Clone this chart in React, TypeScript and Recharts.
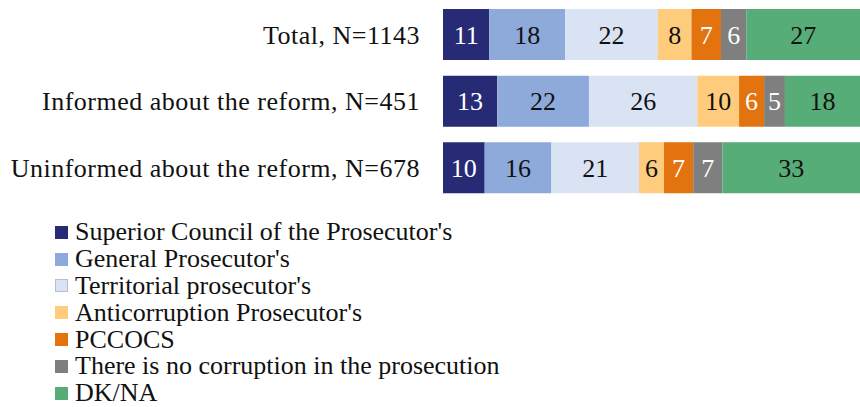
import { Bar, BarChart, LabelList, XAxis, YAxis } from "recharts";

const groups = [
  "Total, N=1143",
  "Informed about the reform, N=451",
  "Uninformed about the reform, N=678",
];

const seriesNames = [
  "Superior Council of the Prosecutor's",
  "General Prosecutor's",
  "Territorial prosecutor's",
  "Anticorruption Prosecutor's",
  "PCCOCS",
  "There is no corruption in the prosecution",
  "DK/NA",
];

const superiorCouncil = [11, 13, 10];
const generalProsecutor = [18, 22, 16];
const territorial = [22, 26, 21];
const anticorruption = [8, 10, 6];
const pccocs = [7, 6, 7];
const noCorruption = [6, 5, 7];
const dkna = [27, 18, 33];

const colors = ["#272B76", "#8EAADB", "#DAE3F3", "#FFCC7E", "#E2730F", "#7F7F7F", "#57AD78"];
const labelColors = ["#fff", "#111", "#111", "#111", "#fff", "#fff", "#111"];

const keys = ["s0", "s1", "s2", "s3", "s4", "s5", "s6"];
const values = [superiorCouncil, generalProsecutor, territorial, anticorruption, pccocs, noCorruption, dkna];

const data = groups.map((name, i) => {
  const row: Record<string, string | number> = { name };
  keys.forEach((k, j) => {
    row[k] = values[j][i];
  });
  return row;
});

const FONT = "'Liberation Serif', serif";

function LegendBox() {
  return (
    <div
      style={{
        position: "absolute",
        left: 55,
        top: 219,
        fontFamily: FONT,
        fontSize: 26,
        lineHeight: 1,
        color: "#111",
      }}
    >
      {seriesNames.map((n, i) => (
        <div key={n} style={{ display: "flex", alignItems: "center", height: 26.8, whiteSpace: "nowrap" }}>
          <span
            style={{
              display: "inline-block",
              width: 13,
              height: 13,
              background: colors[i],
              marginRight: 7,
              boxShadow: i === 2 ? "inset 0 0 0 1px #b8bfcc" : undefined,
            }}
          />
          <span>{n}</span>
        </div>
      ))}
    </div>
  );
}

export default function App() {
  return (
    <div style={{ position: "absolute", left: 0, top: 0, width: 860, height: 407, background: "#fff" }}>
      <BarChart
        width={860}
        height={201}
        data={data}
        layout="vertical"
        stackOffset="expand"
        margin={{ top: 1, right: 0, bottom: 0, left: 0 }}
        barSize={51}
      >
        <XAxis type="number" hide domain={[0, 1]} />
        <YAxis
          type="category"
          dataKey="name"
          width={443}
          axisLine={false}
          tickLine={false}
          tickSize={0}
          tickMargin={23}
          tick={{ fontFamily: FONT, fontSize: 26, fill: "#111", letterSpacing: 0.5 }}
        />
        {keys.map((k, i) => (
          <Bar key={k} dataKey={k} name={seriesNames[i]} stackId="a" fill={colors[i]} isAnimationActive={false}>
            <LabelList
              dataKey={k}
              position="center"
              fill={labelColors[i]}
              style={{ fontFamily: FONT, fontSize: 26 }}
            />
          </Bar>
        ))}
      </BarChart>
      <LegendBox />
    </div>
  );
}
